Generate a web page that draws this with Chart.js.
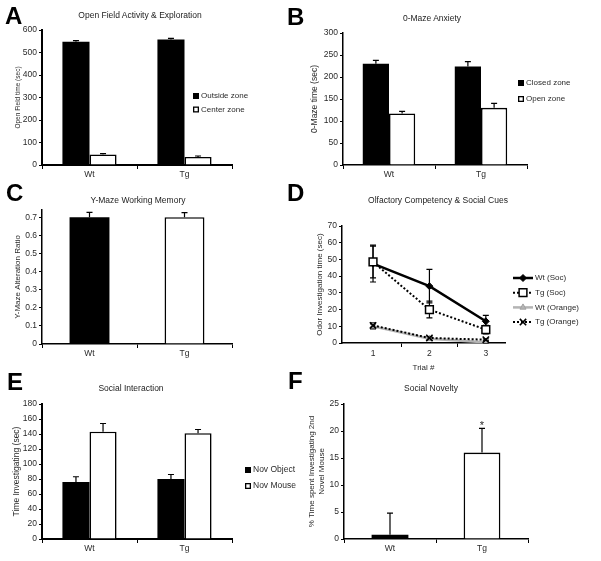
<!DOCTYPE html>
<html><head><meta charset="utf-8">
<script src="https://cdn.jsdelivr.net/npm/chart.js@4.4.1/dist/chart.umd.min.js"></script>
<style>
html,body{margin:0;padding:0;background:#fff;}
#wrap{position:relative;width:601px;height:561px;overflow:hidden;font-family:'Liberation Sans',Arial,sans-serif;background:#fff;}
canvas{position:absolute;left:0;top:0;}
.lt{position:absolute;font-weight:bold;font-size:24px;line-height:24px;color:#000;}
.tt{position:absolute;font-size:8.5px;line-height:10px;color:#222;white-space:nowrap;transform:translate(-50%,-50%);}
</style></head><body>
<div id="wrap">
<canvas id="cA" width="601" height="561"></canvas>
<canvas id="cB" width="601" height="561"></canvas>
<canvas id="cC" width="601" height="561"></canvas>
<canvas id="cD" width="601" height="561"></canvas>
<canvas id="cE" width="601" height="561"></canvas>
<canvas id="cF" width="601" height="561"></canvas>
<div class="lt" style="left:5px;top:4px">A</div>
<div class="lt" style="left:287px;top:5px">B</div>
<div class="lt" style="left:6px;top:181px">C</div>
<div class="lt" style="left:287px;top:181px">D</div>
<div class="lt" style="left:7px;top:370px">E</div>
<div class="lt" style="left:288px;top:369px">F</div>
<div class="tt" style="left:140px;top:15px">Open Field Activity &amp; Exploration</div>
<div class="tt" style="left:432px;top:18px">0-Maze Anxiety</div>
<div class="tt" style="left:138px;top:200px">Y-Maze Working Memory</div>
<div class="tt" style="left:438px;top:200px">Olfactory Competency &amp; Social Cues</div>
<div class="tt" style="left:131px;top:388px">Social Interaction</div>
<div class="tt" style="left:431px;top:388px">Social Novelty</div>
</div>
<script>
// ---------------- data ----------------
const groups = ['Wt', 'Tg'];

// A: Open field
const openFieldLabels = ['Outside zone', 'Center zone'];
const openFieldOutside = [548, 558];
const openFieldOutsideErr = [5, 5];
const openFieldCenter = [47, 36];
const openFieldCenterErr = [4, 4];

// B: 0-Maze
const mazeLabels = ['Closed zone', 'Open zone'];
const mazeClosed = [230, 224];
const mazeClosedErr = [8, 11];
const mazeOpen = [117, 130];
const mazeOpenErr = [5, 10];

// C: Y-Maze
const yMazeRatio = [0.70, 0.70];
const yMazeErr = [0.027, 0.025];
const yMazeTicks = [0, 0.1, 0.2, 0.3, 0.4, 0.5, 0.6, 0.7];

// D: Olfactory
const trials = [1, 2, 3];
const olfLabels = ['Wt (Soc)', 'Tg (Soc)', 'Wt (Orange)', 'Tg (Orange)'];
const wtSoc = [47.5, 34, 13];
const wtSocErr = [11, 10, 3.5];
const tgSoc = [48.5, 20, 8];
const tgSocErr = [9.5, 5, 2.5];
const wtOrange = [10, 2.5, 0.4];
const wtOrangeErr = [1.5, 0.6, 0.3];
const tgOrange = [10.5, 3, 2];
const tgOrangeErr = [1.5, 0.8, 0.5];

// E: Social interaction
const socialLabels = ['Nov Object', 'Nov Mouse'];
const novObject = [76, 80];
const novObjectErr = [7, 6];
const novMouse = [143, 141];
const novMouseErr = [11, 5];

// F: Social novelty
const novelty = [0.8, 16];
const noveltyErr = [4, 4.5];
const noveltySig = ['', '*'];

// ---------------- helpers ----------------
const FONT = "'Liberation Sans', Arial, sans-serif";
Chart.defaults.font.family = FONT;
Chart.defaults.color = '#222';
const W = 601, H = 561;
const TXT = '#2a2a2a';
const TICK = 8.5;

function drawMarker(ctx, style, x, y, r, fill, stroke, lw) {
  ctx.save();
  ctx.setLineDash([]);
  ctx.lineWidth = lw; ctx.fillStyle = fill; ctx.strokeStyle = stroke;
  ctx.beginPath();
  if (style === 'rect') {
    const s = r * Math.SQRT1_2;
    ctx.rect(x - s, y - s, 2 * s, 2 * s); ctx.fill(); ctx.stroke();
  } else if (style === 'rectRot') {
    ctx.moveTo(x, y - r); ctx.lineTo(x + r, y); ctx.lineTo(x, y + r); ctx.lineTo(x - r, y); ctx.closePath();
    ctx.fill(); ctx.stroke();
  } else if (style === 'triangle') {
    ctx.moveTo(x, y - r); ctx.lineTo(x + r * 0.87, y + r * 0.5); ctx.lineTo(x - r * 0.87, y + r * 0.5); ctx.closePath();
    ctx.fill(); ctx.stroke();
  } else if (style === 'crossRot') {
    const s = r * Math.SQRT1_2;
    ctx.moveTo(x - s, y - s); ctx.lineTo(x + s, y + s);
    ctx.moveTo(x - s, y + s); ctx.lineTo(x + s, y - s); ctx.stroke();
  }
  ctx.restore();
}

function drawErrors(chart) {
  const ctx = chart.ctx, ys = chart.scales.y;
  chart.data.datasets.forEach((ds, i) => {
    if (!ds.errors) return;
    const meta = chart.getDatasetMeta(i);
    meta.data.forEach((el, j) => {
      const raw = ds.data[j];
      const val = (typeof raw === 'object') ? raw.y : raw;
      const e = ds.errors[j];
      const x = el.x;
      const yTop = ys.getPixelForValue(val + e);
      const yBot = ds.errBoth ? ys.getPixelForValue(val - e) : el.y;
      const c = ds.capHalf || 3;
      ctx.save();
      ctx.setLineDash([]);
      ctx.strokeStyle = '#000';
      ctx.lineWidth = ds.errWidth || 1.2;
      ctx.beginPath();
      ctx.moveTo(x, yBot); ctx.lineTo(x, yTop);
      ctx.moveTo(x - c, yTop); ctx.lineTo(x + c, yTop);
      if (ds.errBoth) { ctx.moveTo(x - c, yBot); ctx.lineTo(x + c, yBot); }
      ctx.stroke();
      if (ds.marks && ds.marks[j]) {
        ctx.fillStyle = TXT; ctx.font = '11px ' + FONT;
        ctx.textAlign = 'center'; ctx.textBaseline = 'alphabetic';
        ctx.fillText(ds.marks[j], x, yTop + 1);
      }
      ctx.restore();
    });
  });
}

const errPlugin = {
  id: 'errbars',
  beforeDatasetsDraw(chart) { if (chart.config.type === 'line') drawErrors(chart); },
  afterDatasetsDraw(chart) { if (chart.config.type !== 'line') drawErrors(chart); }
};

const legendPlugin = {
  id: 'figLegend',
  afterDraw(chart, args, o) {
    if (!o || o.x === undefined) return;
    const ctx = chart.ctx;
    chart.data.datasets.forEach((ds, i) => {
      const y = o.y + i * o.gap;
      let tx;
      ctx.save();
      if (o.kind === 'line') {
        ctx.beginPath();
        ctx.strokeStyle = ds.borderColor; ctx.lineWidth = ds.borderWidth;
        ctx.setLineDash(ds.borderDash || []);
        ctx.moveTo(o.x, y); ctx.lineTo(o.x + o.len, y); ctx.stroke();
        drawMarker(ctx, ds.pointStyle, o.x + o.len / 2, y, ds.pointRadius,
          ds.pointBackgroundColor, ds.pointBorderColor, ds.pointBorderWidth || 1);
        tx = o.x + o.len + 2;
      } else {
        ctx.fillStyle = ds.backgroundColor;
        ctx.fillRect(o.x, y - o.box / 2, o.box, o.box);
        ctx.strokeStyle = '#000'; ctx.lineWidth = 1.3;
        ctx.strokeRect(o.x + 0.65, y - o.box / 2 + 0.65, o.box - 1.3, o.box - 1.3);
        tx = o.x + o.box + 2;
      }
      ctx.fillStyle = TXT; ctx.font = (o.size || 8) + 'px ' + FONT;
      ctx.textBaseline = 'middle'; ctx.textAlign = 'left';
      ctx.fillText(ds.label, tx, y);
      ctx.restore();
    });
  }
};

function yAxis(box, yW, c) {
  const lh = c.ts * 1.25;
  const ax = {
    type: 'linear', min: c.min, max: c.max,
    ticks: { stepSize: c.step, font: { size: TICK }, color: TXT, padding: 2,
      callback: c.fmt || (v => String(v)) },
    grid: { drawOnChartArea: false, drawTicks: true, tickLength: 3, color: '#000', tickColor: '#000', tickWidth: 1 },
    border: { display: true, color: '#000', width: c.bw },
    title: { display: true, text: c.title, color: TXT,
      font: { size: c.ts, lineHeight: 1.25 },
      padding: { top: c.tx - (box.l - yW) - lh / 2, bottom: 0 } },
    afterFit(s) { s.width = yW; }
  };
  if (c.tickValues) ax.afterBuildTicks = s => { s.ticks = c.tickValues.map(v => ({ value: v })); };
  return ax;
}

function xCat(xH, bw) {
  return {
    type: 'category', offset: true,
    grid: { offset: true, drawOnChartArea: false, drawTicks: true, tickLength: 4, color: '#000', tickColor: '#000' },
    border: { display: true, color: '#000', width: bw },
    ticks: { font: { size: TICK }, color: TXT, padding: 1 },
    afterFit(s) { s.height = xH; }
  };
}

function makeBar(id, box, yc, datasets, legend, catPct) {
  const yW = 40, xH = 20;
  new Chart(document.getElementById(id), {
    type: 'bar',
    data: { labels: groups, datasets },
    options: {
      responsive: false, animation: false, devicePixelRatio: 1,
      layout: { padding: { left: box.l - yW, right: W - box.r, top: box.t, bottom: H - box.b - xH } },
      plugins: { legend: { display: false }, tooltip: { enabled: false }, figLegend: legend || {} },
      datasets: { bar: { categoryPercentage: catPct, barPercentage: 1 } },
      scales: { x: xCat(xH, yc.bw), y: yAxis(box, yW, yc) }
    },
    plugins: [errPlugin, legendPlugin]
  });
}

const blackBar = { backgroundColor: '#000', borderColor: '#000', borderWidth: 0 };
const whiteBar = { backgroundColor: '#fff', borderColor: '#000', borderWidth: 1.6 };

// ---------------- A ----------------
makeBar('cA', { l: 42, r: 232, t: 30, b: 165 },
  { min: 0, max: 600, step: 100, title: 'Open Field time (sec)', tx: 18, ts: 6.5, bw: 2 },
  [
    Object.assign({ label: openFieldLabels[0], data: openFieldOutside, errors: openFieldOutsideErr }, blackBar),
    Object.assign({ label: openFieldLabels[1], data: openFieldCenter, errors: openFieldCenterErr }, whiteBar)
  ],
  { x: 193, y: 96, gap: 13.5, box: 6, size: 8 }, 0.57);

// ---------------- B ----------------
makeBar('cB', { l: 343, r: 527, t: 33, b: 165 },
  { min: 0, max: 300, step: 50, title: '0-Maze time (sec)', tx: 315, ts: 8.5, bw: 1.5 },
  [
    Object.assign({ label: mazeLabels[0], data: mazeClosed, errors: mazeClosedErr }, blackBar),
    Object.assign({ label: mazeLabels[1], data: mazeOpen, errors: mazeOpenErr }, whiteBar)
  ],
  { x: 518, y: 83, gap: 16, box: 6, size: 8 }, 0.57);

// ---------------- C ----------------
makeBar('cC', { l: 42, r: 232, t: 210, b: 344 },
  { min: 0, max: 0.74, step: 0.1, title: 'Y-Maze Alteration Ratio', tx: 18, ts: 8, bw: 1.5,
    tickValues: yMazeTicks, fmt: v => (v === 0 ? '0' : v.toFixed(1)) },
  [
    { label: 'Y-Maze', data: yMazeRatio, errors: yMazeErr,
      backgroundColor: ['#000', '#fff'], borderColor: '#000', borderWidth: [0, 1.6] }
  ],
  null, 0.42);

// ---------------- D ----------------
(function () {
  const box = { l: 342, r: 505, t: 226, b: 343 };
  const yW = 40, xH = 30;
  const pts = arr => trials.map((t, i) => ({ x: t, y: arr[i] }));
  const tickVals = [];
  trials.forEach((t, i) => { tickVals.push(t); if (i < trials.length - 1) tickVals.push((t + trials[i + 1]) / 2); });
  new Chart(document.getElementById('cD'), {
    type: 'line',
    data: {
      datasets: [
        { label: olfLabels[0], data: pts(wtSoc), errors: wtSocErr, errBoth: true, capHalf: 3,
          borderColor: '#000', borderWidth: 2.5, pointStyle: 'rectRot', pointRadius: 3.5,
          pointBackgroundColor: '#000', pointBorderColor: '#000', pointBorderWidth: 1, order: 1 },
        { label: olfLabels[1], data: pts(tgSoc), errors: tgSocErr, errBoth: true, capHalf: 3,
          borderColor: '#000', borderWidth: 2, borderDash: [2, 2], pointStyle: 'rect', pointRadius: 5.5,
          pointBackgroundColor: '#fff', pointBorderColor: '#000', pointBorderWidth: 1.5, order: 0 },
        { label: olfLabels[2], data: pts(wtOrange), errors: wtOrangeErr, errBoth: true, capHalf: 3,
          borderColor: '#b4b4b4', borderWidth: 2.5, pointStyle: 'triangle', pointRadius: 3.5,
          pointBackgroundColor: '#b4b4b4', pointBorderColor: '#a0a0a0', pointBorderWidth: 1, order: 3 },
        { label: olfLabels[3], data: pts(tgOrange), errors: tgOrangeErr, errBoth: true, capHalf: 3,
          borderColor: '#000', borderWidth: 2, borderDash: [2, 2], pointStyle: 'crossRot', pointRadius: 4.5,
          pointBackgroundColor: '#000', pointBorderColor: '#000', pointBorderWidth: 1.6, order: 2 }
      ]
    },
    options: {
      responsive: false, animation: false, devicePixelRatio: 1,
      elements: { line: { tension: 0 } },
      layout: { padding: { left: box.l - yW, right: W - box.r, top: box.t, bottom: H - box.b - xH } },
      plugins: { legend: { display: false }, tooltip: { enabled: false },
        figLegend: { kind: 'line', x: 513, y: 278, gap: 14.7, len: 20, size: 8 } },
      scales: {
        x: {
          type: 'linear', min: 0.45, max: 3.34,
          afterBuildTicks(s) { s.ticks = tickVals.map(v => ({ value: v })); },
          ticks: { font: { size: TICK }, color: TXT, padding: 2, callback: v => (Number.isInteger(v) ? String(v) : '') },
          grid: { drawOnChartArea: false, drawTicks: true, tickLength: 4, color: '#000',
            tickColor: c => (c.tick && Number.isInteger(c.tick.value) ? 'rgba(0,0,0,0)' : '#000') },
          border: { display: true, color: '#000', width: 1.5 },
          title: { display: true, text: 'Trial #', color: TXT, font: { size: 8, lineHeight: 1.25 }, padding: { top: 0, bottom: 0 } },
          afterFit(s) { s.height = xH; }
        },
        y: yAxis(box, yW, { min: 0, max: 70, step: 10, title: 'Odor Investigation time (sec)', tx: 320, ts: 8, bw: 1.5 })
      }
    },
    plugins: [errPlugin, legendPlugin]
  });
})();

// ---------------- E ----------------
makeBar('cE', { l: 42, r: 232, t: 404, b: 539 },
  { min: 0, max: 180, step: 20, title: 'Time Investigating (sec)', tx: 17, ts: 8.5, bw: 2 },
  [
    Object.assign({ label: socialLabels[0], data: novObject, errors: novObjectErr }, blackBar),
    Object.assign({ label: socialLabels[1], data: novMouse, errors: novMouseErr }, whiteBar)
  ],
  { x: 245, y: 470, gap: 16, box: 6, size: 8.5 }, 0.57);

// ---------------- F ----------------
makeBar('cF', { l: 344, r: 528, t: 404, b: 539 },
  { min: 0, max: 25, step: 5, title: ['% Time spent Investigating 2nd', 'Novel Mouse'], tx: 312, ts: 8, bw: 1.5 },
  [
    { label: 'Novelty', data: novelty, errors: noveltyErr, marks: noveltySig,
      backgroundColor: ['#000', '#fff'], borderColor: '#000', borderWidth: [0, 1.6] }
  ],
  null, 0.40);
</script>
</body></html>
